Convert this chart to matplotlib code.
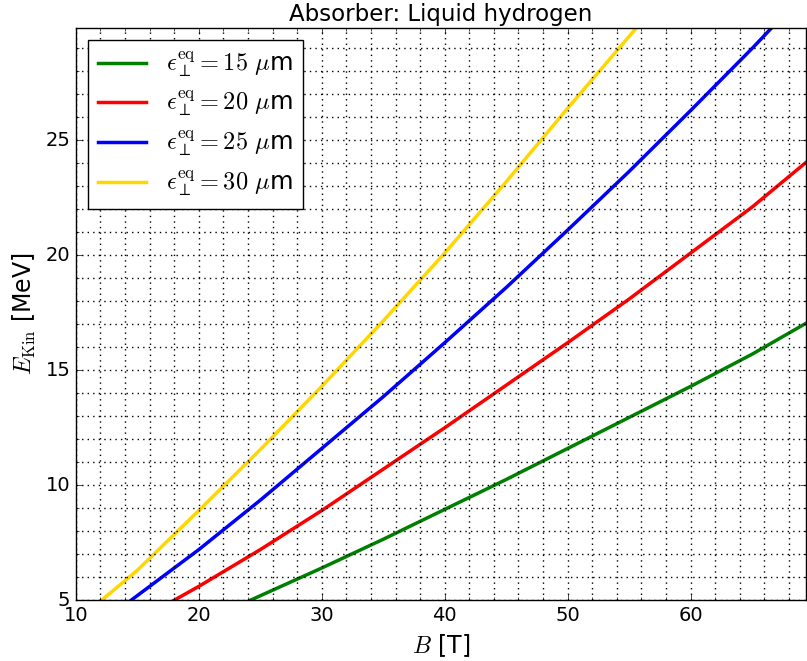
import numpy as np
import matplotlib
matplotlib.use('agg')
from matplotlib import pyplot as plt
from matplotlib.ticker import MultipleLocator

plt.style.use('classic')
plt.rcParams['mathtext.fontset'] = 'cm'
plt.rcParams['font.family'] = 'DejaVu Sans'

# values
b_15 = [24.2, 30, 35, 40, 45, 50, 55, 60, 65, 69.4]
e_15 = [5.0, 6.4, 7.65, 8.95, 10.25, 11.6, 12.95, 14.3, 15.7, 17.05]

b_20 = [18, 20, 25, 30, 35, 40, 45, 50, 55, 60, 65, 69.4]
e_20 = [5.0, 5.6, 7.2, 8.9, 10.7, 12.5, 14.35, 16.2, 18.1, 20.1, 22.1, 24.05]

b_25 = [14.5, 20, 25, 30, 35, 40, 45, 50, 55, 60, 65, 66.6]
e_25 = [5.0, 7.2, 9.35, 11.6, 13.85, 16.2, 18.6, 21.1, 23.65, 26.3, 29.0, 29.9]

b_30 = [12.1, 15, 20, 25, 30, 35, 40, 45, 50, 55.6]
e_30 = [5.0, 6.3, 8.9, 11.55, 14.3, 17.15, 20.1, 23.2, 26.4, 29.9]

emittances = [15, 20, 25, 30]
colors = ['green', 'red', 'blue', 'gold']

fig = plt.figure(figsize=(8.07, 6.61), dpi=100)
fig.patch.set_facecolor('white')
ax = fig.add_axes([0.094, 0.092, 0.905, 0.866])

for b, e, eps, c in zip([b_15, b_20, b_25, b_30], [e_15, e_20, e_25, e_30], emittances, colors):
    ax.plot(b, e, '-', color=c, lw=2.5,
            label=r'$\epsilon_\perp^{\rm eq}=%d$ $\mu$m' % eps)

ax.set_xlim(10, 69.4)
ax.set_ylim(5, 29.9)
ax.xaxis.set_major_locator(MultipleLocator(10))
ax.xaxis.set_minor_locator(MultipleLocator(2))
ax.yaxis.set_major_locator(MultipleLocator(5))
ax.yaxis.set_minor_locator(MultipleLocator(1))
ax.grid(True, which='both', color='black', linestyle=':', lw=1)
ax.tick_params(labelsize=14)

ax.set_xlabel(r'$B$ [T]', fontsize=17)
ax.set_ylabel(r'$E_{\rm Kin}$ [MeV]', fontsize=17)
ax.set_title('Absorber: Liquid hydrogen', fontsize=16.5)

leg = ax.legend(loc='upper left', fontsize=17.5, fancybox=False, numpoints=1,
                handlelength=2.0, labelspacing=0.4)
leg.get_frame().set_edgecolor('black')

fig.savefig('out.png', dpi=100, facecolor='white')
